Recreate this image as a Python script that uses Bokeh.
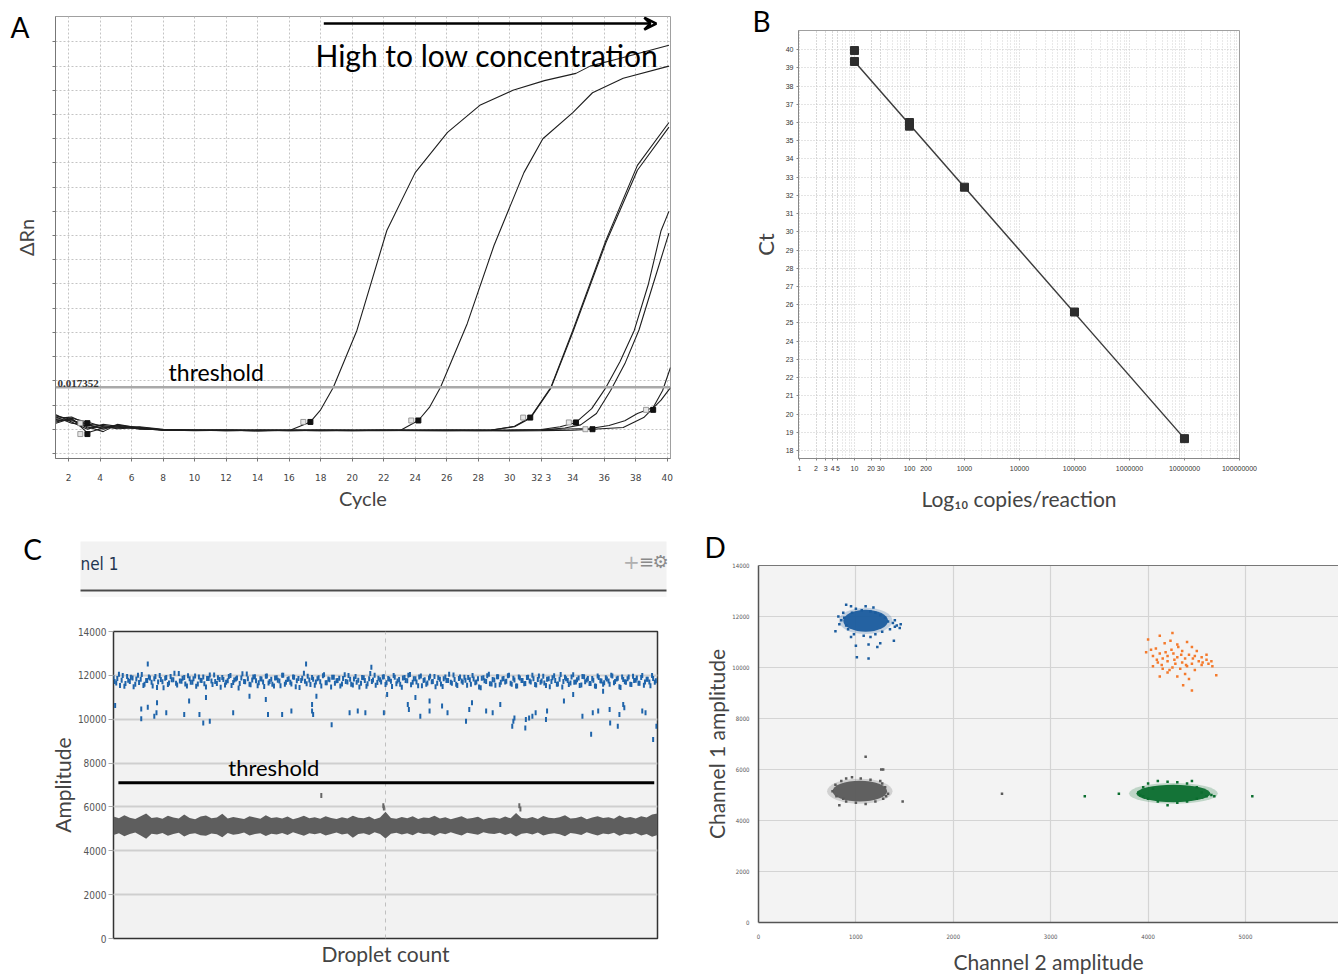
from bokeh.plotting import figure
from bokeh.models import (Range1d, FixedTicker, Label, Arrow, VeeHead, Span, Title,
                          CustomJSTickFormatter, LinearAxis)
from bokeh.layouts import row, column
from bokeh.embed import file_html
from bokeh.resources import INLINE

FONT = "Lato"
COND = "DejaVu Sans Condensed"

# ======================= Panel A data (qPCR amplification) =======================
a_xticks = [2, 4, 6, 8, 10, 12, 14, 16, 18, 20, 22, 24, 26, 28, 30, 32, 34, 36, 38, 40]
a_yticks = [-0.01, 0.0, 0.01, 0.02, 0.03, 0.04, 0.05, 0.06, 0.07, 0.08, 0.09, 0.10,
            0.11, 0.12, 0.13, 0.14, 0.15, 0.16]
a_threshold = 0.017352

c1_cycle = [1.2, 2.2, 3.2, 4.2, 5.1, 6.5, 8, 10, 12, 14, 16.1, 17.35, 18.0, 18.8, 20.3, 22.2, 24.0, 26.05, 28.1, 30.2, 32.2, 34.2, 35.1, 37.2, 40.1]
c1_drn = [0.0055, 0.0040, 0.0010, -0.0010, 0.0020, 0.0005, -0.0003, -0.0006, -0.0004, -0.0006, -0.0003, 0.0030, 0.0080, 0.0172, 0.0408, 0.0821, 0.1060, 0.1226, 0.1338, 0.1400, 0.1440, 0.1470, 0.1500, 0.1536, 0.1586]

c2_cycle = [1.2, 2.2, 3.2, 4.2, 5.1, 6.5, 8, 10, 12, 14, 16, 18, 20, 22, 23.1, 24.2, 24.9, 25.6, 27.3, 29.0, 30.9, 32.1, 34.0, 35.25, 37.2, 40.1]
c2_drn = [0.0045, 0.0050, 0.0020, 0.0000, 0.0015, 0.0008, -0.0002, -0.0004, -0.0005, -0.0003, -0.0006, -0.0005, -0.0004, -0.0005, -0.0003, 0.0036, 0.0090, 0.0172, 0.0436, 0.0759, 0.1060, 0.1200, 0.1308, 0.1390, 0.1450, 0.1500]

c3_cycle = [1.2, 2.2, 3.2, 4.2, 5.1, 6.5, 8, 10, 12, 14, 16, 18, 20, 22, 24, 26, 28.8, 30.3, 31.3, 32.6, 34.0, 36.1, 38.1, 40.1]
c3a_drn = [0.0030, 0.0045, 0.0030, 0.0010, 0.0005, 0.0010, 0.0000, -0.0005, -0.0003, -0.0007, -0.0004, -0.0005, -0.0006, -0.0004, -0.0005, -0.0003, -0.0004, 0.0012, 0.0048, 0.0172, 0.0408, 0.0780, 0.1090, 0.1267]
c3b_drn = [0.0040, 0.0035, 0.0020, 0.0015, 0.0008, 0.0004, -0.0002, -0.0004, -0.0006, -0.0004, -0.0005, -0.0003, -0.0005, -0.0006, -0.0004, -0.0005, -0.0003, 0.0010, 0.0045, 0.0168, 0.0400, 0.0770, 0.1070, 0.1248]

c4a_cycle = [1.2, 2.2, 3.2, 4.2, 5.1, 6.5, 8, 10, 12, 14, 16, 18, 20, 22, 24, 26, 28, 30, 32, 33.2, 34.2, 35.2, 36.1, 37.0, 37.9, 38.8, 39.6, 40.1]
c4a_drn = [0.0050, 0.0025, 0.0015, 0.0005, 0.0010, 0.0003, -0.0004, -0.0003, -0.0006, -0.0005, -0.0004, -0.0006, -0.0005, -0.0004, -0.0005, -0.0006, -0.0004, -0.0003, -0.0001, 0.0010, 0.0028, 0.0085, 0.0172, 0.0280, 0.0408, 0.0600, 0.0820, 0.0900]

c4b_cycle = [1.2, 2.2, 3.2, 4.2, 5.1, 6.5, 8, 10, 12, 14, 16, 18, 20, 22, 24, 26, 28, 30, 32, 33.5, 34.5, 35.5, 36.4, 37.3, 38.2, 39.1, 40.1]
c4b_drn = [0.0035, 0.0040, 0.0005, 0.0010, 0.0002, 0.0006, -0.0003, -0.0005, -0.0004, -0.0006, -0.0005, -0.0004, -0.0006, -0.0005, -0.0004, -0.0005, -0.0006, -0.0004, -0.0003, 0.0005, 0.0018, 0.0065, 0.0160, 0.0270, 0.0410, 0.0600, 0.0810]

c5a_cycle = [1.2, 2.2, 3.2, 4.2, 5.1, 6.5, 8, 10, 12, 14, 16, 18, 20, 22, 24, 26, 28, 30, 32, 33.0, 35.1, 36.3, 37.3, 38.1, 39.1, 39.7, 40.2]
c5a_drn = [0.0060, 0.0030, 0.0000, 0.0020, 0.0012, 0.0002, -0.0003, -0.0004, -0.0005, -0.0004, -0.0006, -0.0004, -0.0005, -0.0003, -0.0005, -0.0004, -0.0003, -0.0004, -0.0002, 0.0000, 0.0003, 0.0015, 0.0035, 0.0065, 0.0090, 0.0160, 0.0255]

c5b_cycle = [1.2, 2.2, 3.2, 4.2, 5.1, 6.5, 8, 10, 12, 14, 16, 18, 20, 22, 24, 26, 28, 30, 32, 34, 35.25, 37.2, 38.5, 39.6, 40.2]
c5b_drn = [0.0025, 0.0045, -0.0015, 0.0005, 0.0018, 0.0000, -0.0002, -0.0005, -0.0003, -0.0005, -0.0004, -0.0006, -0.0004, -0.0005, -0.0006, -0.0005, -0.0006, -0.0007, -0.0006, -0.0004, 0.0000, 0.0007, 0.0048, 0.0120, 0.0172]

a_mark_cycle = [17.35, 24.2, 31.3, 34.2, 35.25, 39.1, 3.2, 3.2]
a_mark_drn = [0.0030, 0.0036, 0.0048, 0.0028, 0.0000, 0.0080, 0.0025, -0.0020]

# ======================= Panel B data (standard curve) =======================
b_copies = [10, 10, 100, 100, 1000, 100000, 10000000]
b_ct = [39.95, 39.35, 35.8, 36.0, 32.45, 25.6, 18.65]
b_fit_copies = [10, 10000000]
b_fit_ct = [39.35, 18.65]
b_xticks = [1, 2, 3, 4, 5, 10, 20, 30, 100, 200, 1000, 10000, 100000, 1000000, 10000000, 100000000]
b_yticks = list(range(18, 41))

# ======================= Panel C data (1D droplet plot) =======================
c_yticks = [0, 2000, 4000, 6000, 8000, 10000, 12000, 14000]
c_threshold = 7100
c_band_event = list(range(0, 1000, 5))
c_band_amp = [
    11900, 11650, 12050, 11780, 11500, 11950, 11720, 11880, 11600, 12000, 11820, 11540, 11760, 11930, 11680, 11850, 11450, 11990, 11710, 11870,
    11580, 11950, 11800, 11640, 12080, 11730, 11900, 11520, 11840, 11690, 11970, 11610, 11780, 11920, 11470, 11860, 11740, 12020, 11630, 11810,
    11900, 11560, 11750, 11990, 11670, 11830, 11420, 11880, 11720, 12060, 11600, 11790, 11940, 11530, 11850, 11700, 11960, 11650, 11820, 11510,
    11890, 11740, 12000, 11590, 11810, 11680, 11930, 11480, 11860, 11760, 12100, 11620, 11790, 11900, 11550, 11840, 11710, 11980, 11660, 11830,
    11470, 11910, 11750, 11870, 11610, 12030, 11700, 11820, 11560, 11950, 11780, 11640, 11890, 11500, 11850, 11720, 12010, 11670, 11800, 11930,
    11580, 11860, 11730, 11990, 11620, 11810, 11460, 11900, 11750, 12040, 11690, 11840, 11530, 11970, 11760, 11600, 11880, 11710, 11950, 11640,
    11820, 11490, 11930, 11770, 11680, 12020, 11590, 11860, 11740, 11910, 11550, 11800, 11990, 11660, 11850, 11430, 11890, 11720, 12050, 11610,
    11790, 11940, 11570, 11830, 11700, 11980, 11640, 11870, 11510, 11920, 11760, 11620, 11900, 11740, 12000, 11580, 11810, 11690, 11960, 11540,
    11850, 11720, 11980, 11600, 11820, 11470, 11910, 11770, 11650, 12030, 11700, 11880, 11560, 11940, 11790, 11630, 11860, 11520, 11970, 11750,
    11600, 11890, 11740, 12010, 11660, 11830, 11480, 11920, 11710, 11850, 11590, 11960, 11780, 11640, 11900, 11550, 11820, 11700, 11990, 11680]
c_band2_event = list(range(2, 1000, 5))
c_band2_amp = [
    11720, 11860, 11540, 11990, 11630, 11780, 11910, 11480, 11830, 11670, 12040, 11590, 11760, 11880, 11520, 11950, 11700, 11810, 11440, 11900,
    11650, 11800, 12100, 11560, 11740, 11870, 11610, 11980, 11690, 11840, 11500, 11930, 11770, 11620, 11860, 12020, 11580, 11720, 11890, 11460,
    11810, 11680, 11950, 11540, 11790, 11880, 11630, 12070, 11710, 11850, 11570, 11920, 11750, 11660, 11830, 11490, 11970, 11720, 11600, 11880,
    11780, 11530, 12000, 11690, 11840, 11610, 11910, 11750, 11450, 11870, 11730, 11960, 11580, 11820, 11700, 11890, 11520, 12030, 11660, 11800,
    11910, 11640, 11770, 11510, 11860, 11720, 11990, 11600, 11830, 11680, 11470, 11900, 11760, 11620, 12080, 11790, 11550, 11870, 11700, 11940,
    11660, 11820, 11490, 11910, 11740, 11600, 11880, 11770, 12010, 11570, 11840, 11700, 11930, 11530, 11800, 11650, 11960, 11720, 11480, 11890,
    11610, 11850, 11760, 12050, 11640, 11810, 11540, 11920, 11690, 11780, 11900, 11590, 11830, 11700, 11470, 11870, 11750, 11980, 11620, 11810,
    11550, 11940, 11680, 11860, 11730, 12000, 11600, 11790, 11510, 11880, 11760, 11630, 11910, 11700, 11840, 11560, 11970, 11740, 11650, 11820,
    11480, 11890, 11770, 11610, 12040, 11720, 11850, 11580, 11930, 11690, 11800, 11540, 11950, 11710, 11860, 11630, 11780, 11500, 11900, 11740,
    11660, 11830, 11590, 11970, 11720, 11870, 11450, 11810, 11690, 11920, 11580, 11760, 11880, 11640, 11990, 11700, 11820, 11530, 11860, 11750]
c_blue_out_event = [3, 51, 51, 63, 75, 79, 80, 97, 130, 139, 158, 165, 170, 177, 220, 250, 280, 284, 310, 327,
                    365, 365, 367, 373, 401, 434, 449, 463, 497, 503, 541, 543, 555, 564, 581, 581, 604, 614, 648, 654,
                    659, 685, 697, 711, 735, 733, 737, 758, 757, 764, 770, 776, 795, 797, 828, 845, 862, 878, 881, 891,
                    900, 912, 913, 927, 930, 937, 939, 972, 978, 992, 998, 63, 354, 474]
c_blue_out_amp = [10620, 10470, 10020, 10550, 10140, 10290, 10750, 10290, 10220, 10830, 10220, 9830, 10990, 9910, 10290, 11050, 10900, 10220, 10220, 10370,
                  10370, 10670, 10220, 11050, 9750, 10290, 10370, 10290, 10290, 11130, 10670, 10440, 10990, 10140, 10370, 10830, 10600, 10290, 9910, 10440,
                  10750, 10370, 10290, 10670, 9910, 9680, 10060, 9990, 9600, 10060, 10140, 10290, 9990, 10370, 10830, 11130, 10140, 9310, 10290, 10370,
                  11280, 10440, 9830, 9680, 10220, 10670, 10520, 10370, 10290, 9070, 9680, 12520, 12520, 12370]
c_gray_edge_event = list(range(0, 1001, 10))
c_gray_upper = [5560, 5480, 5620, 5510, 5450, 5580, 5700, 5490, 5530, 5460, 5600, 5520, 5470, 5650, 5500, 5440, 5560, 5610, 5480, 5520,
                5690, 5470, 5540, 5500, 5450, 5580, 5520, 5460, 5620, 5490, 5530, 5470, 5560, 5440, 5510, 5600, 5480, 5530, 5460, 5580,
                5500, 5450, 5530, 5470, 5600, 5510, 5480, 5560, 5440, 5520, 5780, 5500, 5460, 5540, 5480, 5570, 5450, 5520, 5490, 5600,
                5470, 5530, 5440, 5510, 5580, 5460, 5500, 5550, 5430, 5490, 5520, 5460, 5560, 5480, 5720, 5500, 5470, 5540, 5450, 5590,
                5510, 5480, 5530, 5620, 5470, 5500, 5560, 5440, 5520, 5580, 5490, 5530, 5460, 5610, 5500, 5540, 5470, 5580, 5520, 5650,
                5700]
c_gray_lower = [4720, 4800, 4660, 4760, 4830, 4700, 4550, 4780, 4740, 4810, 4690, 4770, 4820, 4650, 4760, 4800, 4710, 4680, 4790, 4750,
                4620, 4810, 4730, 4770, 4830, 4700, 4760, 4800, 4670, 4780, 4740, 4810, 4720, 4840, 4760, 4690, 4800, 4750, 4810, 4700,
                4770, 4830, 4740, 4790, 4600, 4760, 4800, 4720, 4840, 4770, 4560, 4780, 4820, 4740, 4800, 4710, 4830, 4760, 4790, 4680,
                4810, 4750, 4840, 4770, 4700, 4820, 4780, 4730, 4850, 4790, 4760, 4820, 4720, 4800, 4650, 4780, 4810, 4740, 4830, 4700,
                4770, 4800, 4750, 4660, 4810, 4780, 4720, 4840, 4760, 4700, 4790, 4750, 4820, 4680, 4780, 4740, 4810, 4700, 4760, 4640,
                4720]
c_gray_out_event = [382, 496, 497, 746, 748]
c_gray_out_amp = [6520, 6050, 5950, 6050, 5900]

# ======================= Panel D data (2D droplet plot) =======================
d_xticks = [0, 1000, 2000, 3000, 4000, 5000, 6000]
d_yticks = [0, 2000, 4000, 6000, 8000, 10000, 12000, 14000]
d_core_x = [1100, 1040, 4260]
d_core_y = [11830, 5150, 5060]
d_core_w = [460, 560, 760]
d_core_h = [860, 820, 680]
d_core_color = ["#1b5c9e", "#5a5a5a", "#0b6e2f"]

d_blue_x = [790, 870, 900, 950, 880, 830, 920, 980, 1000, 1060, 1150, 1200, 1250, 1300, 1330, 1380, 1400, 1350, 1270, 1200,
            1150, 1080, 1000, 1130, 1250, 1220, 1450, 1460, 1390, 950, 850, 820, 1100, 1010, 1130, 1400, 1420, 900, 960, 1180]
d_blue_y = [11420, 12150, 12460, 12400, 11950, 11700, 11500, 11300, 12300, 12250, 12200, 12150, 12050, 11950, 11800, 11750, 11600, 11500, 11400, 11300,
            11200, 11250, 10850, 10900, 10950, 10800, 11550, 11700, 11050, 11200, 11850, 12000, 12400, 10400, 10350, 11850, 11650, 11650, 12150, 12350]
d_orange_x = [4000, 4120, 4250, 4170, 4080, 4230, 4300, 4400, 4450, 4350, 4120, 4050, 4150, 4200, 4260, 4300, 4380, 4420, 4480, 4550,
              4600, 4650, 4520, 4450, 4350, 4280, 4200, 4100, 4050, 4150, 4250, 4330, 4400, 4480, 4550, 4620, 4700, 4120, 4200, 4300,
              4380, 4420, 4360, 4450, 3980, 4030, 4310, 4180, 4240, 4340, 4500, 4560, 4090, 4140, 4460, 4390, 4270, 4220, 4600, 4660]
d_orange_y = [11100, 11250, 11350, 10950, 10750, 11050, 10900, 11000, 10800, 10650, 10550, 10450, 10350, 10450, 10550, 10400, 10350, 10500, 10450, 10400,
              10300, 10250, 10250, 10150, 10200, 10150, 10250, 10200, 10050, 9950, 10000, 9950, 10050, 9900, 10100, 10150, 9700, 9650, 9800, 9650,
              9750, 9550, 9300, 9100, 10600, 10700, 10800, 10600, 10700, 10500, 10650, 10200, 10300, 10100, 10350, 10100, 10300, 9900, 10500, 10050]
d_gray_x = [760, 790, 800, 850, 900, 960, 1050, 1150, 1250, 1300, 1330, 1280, 1200, 1100, 1000, 900, 830, 870, 1310, 1270,
            1100, 1260, 1280, 1480, 2500]
d_gray_y = [5150, 5400, 4950, 5550, 5650, 5700, 5650, 5600, 5550, 5300, 5050, 4850, 4750, 4650, 4700, 4750, 4600, 4850, 4950, 5450,
            6500, 6000, 6000, 4750, 5050]
d_green_x = [3900, 3950, 4000, 4100, 4200, 4300, 4400, 4500, 4550, 4600, 4650, 4680, 4500, 4400, 4300, 4200, 4100, 4000, 3950, 4450,
             4050, 3920, 3350, 3700, 5070]
d_green_y = [5100, 5300, 5450, 5550, 5520, 5500, 5450, 5300, 5100, 4950, 5000, 4950, 4850, 4750, 4700, 4600, 4750, 4850, 4950, 5550,
             5250, 5000, 4950, 5050, 4950]


def text_label(x, y, text, size="26px", align="center", baseline="middle", color="black", font=FONT, style="normal"):
    return Label(x=x, y=y, text=text, text_font=font, text_font_size=size, text_align=align,
                 text_baseline=baseline, text_color=color, text_font_style=style)


def panel_letter(text, offset, standoff):
    return Title(text=text, align="left", offset=offset, standoff=standoff, vertical_align="bottom",
                 text_font=FONT, text_font_size="28px", text_font_style="normal", text_color="black")


# ------------------------------- Panel A -------------------------------
pA = figure(width=700, height=515, output_backend="svg", toolbar_location=None, frame_align=False,
            x_range=Range1d(1.175, 40.2), y_range=Range1d(-0.0121, 0.1705),
            min_border_left=55, min_border_right=30, min_border_top=16, min_border_bottom=57)
pA.outline_line_color = "#a0a0a0"
pA.xaxis.ticker = FixedTicker(ticks=a_xticks)
pA.xaxis.major_label_overrides = {32: "32 3"}
pA.yaxis.ticker = FixedTicker(ticks=a_yticks)
pA.yaxis.formatter = CustomJSTickFormatter(code="return ''")
for ax in (pA.xaxis, pA.yaxis):
    ax.axis_line_color = "#777777"
    ax.major_tick_line_color = "#777777"
    ax.minor_tick_line_color = None
    ax.major_tick_in = 0
    ax.major_tick_out = 3
    ax.axis_label_text_font = FONT
    ax.axis_label_text_font_style = "normal"
    ax.axis_label_text_font_size = "20px"
pA.xaxis.major_label_text_font = "DejaVu Sans"
pA.xaxis.major_label_text_font_size = "9px"
pA.xaxis.major_label_standoff = 11
pA.xaxis.axis_label = "Cycle"
pA.xaxis.axis_label_standoff = 0
pA.yaxis.axis_label = "ΔRn"
pA.yaxis.major_label_standoff = 0
pA.yaxis.axis_label_standoff = 15
pA.grid.grid_line_color = "#c4c4c4"
pA.grid.grid_line_dash = "2 2"
pA.grid.grid_line_width = 1

pA.add_layout(Span(location=a_threshold, dimension="width", line_color="#a9a9a9", line_width=2.5))
a_series = [(c1_cycle, c1_drn), (c2_cycle, c2_drn), (c3_cycle, c3a_drn), (c3_cycle, c3b_drn),
            (c4a_cycle, c4a_drn), (c4b_cycle, c4b_drn), (c5a_cycle, c5a_drn), (c5b_cycle, c5b_drn)]
for xs, ys in a_series:
    pA.line(xs, ys, line_color="#1e1e1e", line_width=1.1)
pA.scatter([c - 0.45 for c in a_mark_cycle], a_mark_drn, marker="square", size=5,
           fill_color="#e6e6e6", line_color="#888888", line_width=0.8)
pA.scatter(a_mark_cycle, a_mark_drn, marker="square", size=5, fill_color="#111111", line_color="#111111")

pA.add_layout(Label(x=1.3, y=a_threshold, text="0.017352", text_font="Liberation Serif",
                    text_font_style="bold", text_font_size="11px", text_baseline="bottom",
                    text_color="#333333"))
pA.add_layout(text_label(8.35, a_threshold + 0.0003, "threshold", size="23px", align="left", baseline="bottom"))
pA.add_layout(text_label(17.67, 0.1548, "High to low concentration", size="30px", align="left"))
pA.add_layout(Arrow(end=VeeHead(size=12, line_width=2.5, line_color="black", fill_color=None),
                    x_start=18.2, y_start=0.1676, x_end=39.3, y_end=0.1676,
                    line_width=2.5, line_color="black"))
pA.add_layout(panel_letter("A", -45, -54), "above")

# ------------------------------- Panel B -------------------------------
pB = figure(width=638, height=515, output_backend="svg", toolbar_location=None, frame_align=False,
            x_axis_type="log", x_range=Range1d(0.96, 1.0e8), y_range=Range1d(17.56, 41.05),
            min_border_left=98, min_border_right=99, min_border_top=30, min_border_bottom=57)
pB.outline_line_color = "#a0a0a0"
b_minor = [k * 10 ** d for d in range(0, 8) for k in range(2, 10)]
pB.xaxis.ticker = FixedTicker(ticks=b_xticks, minor_ticks=b_minor)
pB.xaxis.formatter = CustomJSTickFormatter(code="return Math.round(tick).toString()")
pB.yaxis.ticker = FixedTicker(ticks=b_yticks)
for ax in (pB.xaxis, pB.yaxis):
    ax.axis_line_color = "#888888"
    ax.major_tick_line_color = "#888888"
    ax.minor_tick_line_color = None
    ax.major_tick_in = 0
    ax.major_tick_out = 2
    ax.major_label_text_font = "Liberation Sans"
    ax.major_label_text_font_size = "7px"
    ax.major_label_text_color = "#333333"
    ax.major_label_standoff = 3
    ax.axis_label_text_font = FONT
    ax.axis_label_text_font_style = "normal"
pB.xaxis.axis_label = "Log₁₀ copies/reaction"
pB.xaxis.axis_label_text_font_size = "21px"
pB.xaxis.axis_label_standoff = 12
pB.yaxis.axis_label = "Ct"
pB.yaxis.axis_label_text_font_size = "22px"
pB.yaxis.axis_label_standoff = 4
pB.grid.grid_line_color = "#c8c8c8"
pB.grid.grid_line_dash = "1 2"
pB.xgrid.minor_grid_line_color = "#d2d2d2"
pB.xgrid.minor_grid_line_dash = "1 2"
pB.line(b_fit_copies, b_fit_ct, line_color="#3a3a3a", line_width=1.4)
pB.scatter(b_copies, b_ct, marker="square", size=8, fill_color="#2e2e2e", line_color="#2e2e2e")
pB.add_layout(panel_letter("B", -46, -14), "above")

# ------------------------------- Panel C header -------------------------------
pCh = figure(width=700, height=82, output_backend="svg", toolbar_location=None, frame_align=False,
             x_range=Range1d(0, 700), y_range=Range1d(597, 515),
             min_border_left=0, min_border_right=0, min_border_top=0, min_border_bottom=0)
pCh.axis.visible = False
pCh.grid.visible = False
pCh.outline_line_color = None
pCh.quad(left=[80], right=[666], top=[541], bottom=[589], fill_color="#f2f2f2", line_color=None)
pCh.quad(left=[80], right=[666], top=[591], bottom=[597], fill_color="#f7f7f7", line_color=None)
pCh.segment(x0=[80], y0=[590], x1=[666], y1=[590], line_color="#4a4a4a", line_width=2)
pCh.add_layout(text_label(80, 563, "nel 1", size="17px", align="left", color="#1f3550", font=COND))
pCh.add_layout(text_label(631, 561, "+", size="20px", color="#b0b0b0", font="DejaVu Sans"))
pCh.add_layout(text_label(646, 561, "≡", size="18px", color="#8a8a8a", font="DejaVu Sans"))
pCh.add_layout(text_label(660, 561, "⚙", size="18px", color="#8a8a8a", font="DejaVu Sans"))
pCh.add_layout(text_label(32, 548, "C", size="28px"))

# ------------------------------- Panel C plot -------------------------------
pC = figure(width=700, height=379, output_backend="svg", toolbar_location=None, frame_align=False,
            x_range=Range1d(0, 1000), y_range=Range1d(0, 14000),
            min_border_left=113, min_border_right=43, min_border_top=34, min_border_bottom=38)
pC.background_fill_color = "#f2f2f2"
pC.outline_line_color = "#333333"
pC.outline_line_width = 1.5
pC.xaxis.ticker = FixedTicker(ticks=[])
pC.xaxis.axis_line_color = None
pC.xaxis.major_tick_line_color = None
pC.xaxis.major_label_text_font_size = "0px"
pC.xaxis.major_label_standoff = 0
pC.xaxis.axis_label = "Droplet count"
pC.xaxis.axis_label_standoff = 2
pC.yaxis.ticker = FixedTicker(ticks=c_yticks)
pC.yaxis.axis_line_color = None
pC.yaxis.major_tick_line_color = "#aaaaaa"
pC.yaxis.major_tick_out = 5
pC.yaxis.major_tick_in = 0
pC.yaxis.minor_tick_line_color = None
pC.yaxis.major_label_text_font = COND
pC.yaxis.major_label_text_font_size = "10px"
pC.yaxis.major_label_text_color = "#555555"
pC.yaxis.major_label_standoff = 2
pC.yaxis.axis_label = "Amplitude"
pC.yaxis.axis_label_standoff = 0
for ax in (pC.xaxis, pC.yaxis):
    ax.axis_label_text_font = FONT
    ax.axis_label_text_font_style = "normal"
    ax.axis_label_text_font_size = "21px"
pC.ygrid.grid_line_color = "#cfcfcf"
pC.ygrid.grid_line_width = 2
pC.xgrid.ticker = FixedTicker(ticks=[500])
pC.xgrid.grid_line_color = "#c0c0c0"
pC.xgrid.grid_line_dash = "4 4"

pC.varea(x=c_gray_edge_event, y1=c_gray_lower, y2=c_gray_upper, fill_color="#5e5e5e")
pC.rect(x=c_gray_out_event, y=c_gray_out_amp, width=2, height=5, width_units="screen",
        height_units="screen", fill_color="#666666", line_color=None)
for xs, ys in ((c_band_event, c_band_amp), (c_band2_event, c_band2_amp), (c_blue_out_event, c_blue_out_amp)):
    pC.rect(x=xs, y=ys, width=2, height=5, width_units="screen",
            height_units="screen", fill_color="#1f64aa", line_color=None)
pC.segment(x0=[9], y0=[c_threshold], x1=[994], y1=[c_threshold], line_color="black", line_width=3)
pC.add_layout(text_label(211, c_threshold + 90, "threshold", size="22px", align="left", baseline="bottom"))

# ------------------------------- Panel D -------------------------------
pD = figure(width=638, height=461, output_backend="svg", toolbar_location=None, frame_align=False,
            x_range=Range1d(0, 5955), y_range=Range1d(0, 14000),
            min_border_left=58, min_border_right=0, min_border_top=50, min_border_bottom=49)
pD.background_fill_color = "#f3f3f3"
pD.outline_line_color = None
pD.xaxis.ticker = FixedTicker(ticks=d_xticks)
pD.yaxis.ticker = FixedTicker(ticks=d_yticks)
for ax in (pD.xaxis, pD.yaxis):
    ax.axis_line_color = "#555555"
    ax.axis_line_width = 1.5
    ax.major_tick_line_color = None
    ax.minor_tick_line_color = None
    ax.major_label_text_font = COND
    ax.major_label_text_font_size = "6px"
    ax.major_label_text_color = "#555555"
    ax.major_label_standoff = 5
    ax.axis_label_text_font = FONT
    ax.axis_label_text_font_style = "normal"
    ax.axis_label_text_font_size = "21px"
pD.xaxis.axis_label = "Channel 2 amplitude"
pD.xaxis.axis_label_standoff = 7
pD.yaxis.axis_label = "Channel 1 amplitude"
pD.yaxis.major_label_standoff = 3
pD.yaxis.axis_label_standoff = 0
top_axis = LinearAxis(ticker=FixedTicker(ticks=[]), axis_line_color="#777777", axis_line_width=1.2,
                      major_tick_line_color=None, minor_tick_line_color=None,
                      major_label_text_font_size="0px", major_label_standoff=0)
pD.add_layout(top_axis, "above")
pD.grid.grid_line_color = "#d4d4d4"
pD.grid.grid_line_width = 1.2

pD.ellipse(x=d_core_x, y=d_core_y, width=[w * 1.2 for w in d_core_w], height=[h * 1.2 for h in d_core_h],
           fill_color=d_core_color, fill_alpha=0.22, line_color=None)
pD.ellipse(x=d_core_x, y=d_core_y, width=d_core_w, height=d_core_h,
           fill_color=d_core_color, fill_alpha=0.95, line_color=None)
pD.scatter(d_blue_x, d_blue_y, marker="square", size=2.5, fill_color="#1b5c9e", line_color=None)
pD.scatter(d_orange_x, d_orange_y, marker="square", size=2.5, fill_color="#f47a2c", line_color=None)
pD.scatter(d_gray_x, d_gray_y, marker="square", size=2.5, fill_color="#5a5a5a", line_color=None)
pD.scatter(d_green_x, d_green_y, marker="square", size=2.5, fill_color="#0b6e2f", line_color=None)
pD.add_layout(panel_letter("D", -54, 4), "above")

layout = column(row(pA, pB, spacing=0), row(column(pCh, pC, spacing=0), pD, spacing=0), spacing=0)
open("out.html", "w").write(file_html(layout, INLINE))
